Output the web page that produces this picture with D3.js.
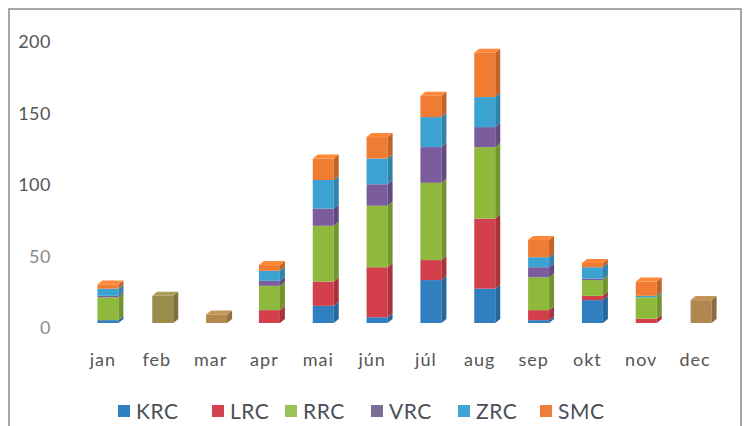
<!DOCTYPE html>
<html><head><meta charset="utf-8">
<script src="https://cdn.jsdelivr.net/npm/d3@7"></script>
<style>
html,body{margin:0;padding:0;background:#fff;}
svg{display:block;font-family:Lato,"Open Sans",sans-serif;}
</style></head>
<body>
<svg id="c" width="746" height="426"></svg>
<script>
const months = ["jan","feb","mar","apr","mai","jún","júl","aug","sep","okt","nov","dec"];
const seriesNames = ["KRC","LRC","RRC","VRC","ZRC","SMC"];
const KRC = [2, 2, 0, 0, 12, 4, 30, 24, 2, 16, 0, 0];
const LRC = [0, 0, 0, 9, 17, 35, 14, 49, 7, 3, 3, 0];
const RRC = [16, 12, 3, 17, 39, 43, 54, 50, 23, 11, 15, 10];
const VRC = [1, 0, 0, 3.5, 12, 15, 25, 14, 7, 1, 0, 0];
const ZRC = [5, 3, 0, 7, 20, 18, 21, 21, 7, 8, 1, 0];
const SMC = [3, 2, 3, 4, 15, 15, 15, 31, 12, 3, 10, 6];
const yTicks = [0, 50, 100, 150, 200];

const colors = {KRC:"#2f7fc1", LRC:"#d3404b", RRC:"#8fb93c", VRC:"#7b5d9e", ZRC:"#3ca2d2", SMC:"#f07b32"};
const legendColors = {KRC:"#2f7fc1", LRC:"#d3434f", RRC:"#9cc05a", VRC:"#7a6e99", ZRC:"#40a3d3", SMC:"#ef7d3c"};
// months whose bars appear as smudged single-colour blocks in the reference
const smudged = {feb:"#9a8d4c", mar:"#b3884f", dec:"#b08652"};

const seriesData = {KRC, LRC, RRC, VRC, ZRC, SMC};
const table = months.map((m,i)=>{const o={month:m}; seriesNames.forEach(s=>o[s]=seriesData[s][i]); return o;});
const stack = d3.stack().keys(seriesNames)(table);

const svg = d3.select("#c");
// frame
svg.append("rect").attr("x",9).attr("y",9).attr("width",732).attr("height",430)
  .attr("fill","none").attr("stroke","#8a8a8a").attr("stroke-width",1.5);

const x = d3.scaleBand().domain(months).range([81, 727]).paddingInner(0).paddingOuter(0);
const y = d3.scaleLinear().domain([0,200]).range([323, 37]);
const bw = 21, dx = 5, dy = -4;

// y tick labels
svg.append("g").selectAll("text").data(yTicks).join("text")
  .attr("x", 51).attr("y", d=>y(d)+5).attr("dy","0.35em").attr("text-anchor","end")
  .attr("font-size",18).attr("letter-spacing",0.5).attr("fill", d=> d===50||d===0 ? "#8a8a8a" : "#555").text(d=>d);

// x labels
svg.append("g").selectAll("text").data(months).join("text")
  .attr("x", d=>x(d)+x.bandwidth()/2-5).attr("y", 360).attr("dy","0.35em").attr("text-anchor","middle")
  .attr("font-size",18).attr("letter-spacing",1).attr("fill","#555").text(d=>d);

function drawCube(g, cx, y0, y1, col){
  const left = cx - bw/2, right = cx + bw/2;
  const c = d3.color(col);
  g.append("rect").attr("x",left).attr("y",y1).attr("width",bw).attr("height",Math.max(0,y0-y1)).attr("fill",col);
  g.append("path").attr("d",`M${right},${y1}L${right+dx},${y1+dy}L${right+dx},${y0+dy}L${right},${y0}Z`).attr("fill",c.darker(0.6));
}
function drawTop(g, cx, yt, col){
  const left = cx - bw/2, right = cx + bw/2;
  g.append("path").attr("d",`M${left},${yt}L${left+dx},${yt+dy}L${right+dx},${yt+dy}L${right},${yt}Z`).attr("fill",d3.color(col).brighter(0.3));
}

const gBars = svg.append("g");
months.forEach((m,i)=>{
  const cx = x(m) + x.bandwidth()/2;
  const g = gBars.append("g");
  if (smudged[m]) {
    const total = d3.sum(seriesNames, s=>seriesData[s][i]);
    const col = smudged[m];
    drawCube(g, cx+1, y(0), y(total), col);
    drawTop(g, cx+1, y(total), col);
    return;
  }
  let lastTop = null, lastCol = null;
  stack.forEach(layer=>{
    const d = layer[i];
    if (d[1]-d[0] <= 0) return;
    drawCube(g, cx, y(d[0]), y(d[1]), colors[layer.key]);
    lastTop = y(d[1]); lastCol = colors[layer.key];
  });
  if (lastTop!==null) drawTop(g, cx, lastTop, lastCol);
});

// legend
const legX = [118, 212, 285, 371, 458, 540];
const lg = svg.append("g");
seriesNames.forEach((s,i)=>{
  lg.append("rect").attr("x",legX[i]).attr("y",405).attr("width",12).attr("height",12).attr("fill",legendColors[s]);
  lg.append("text").attr("x",legX[i]+18).attr("y",411).attr("dy","0.36em").attr("font-size",21)
    .attr("letter-spacing",0.5).attr("fill","#4a5058").text(s);
});
</script>
</body></html>
